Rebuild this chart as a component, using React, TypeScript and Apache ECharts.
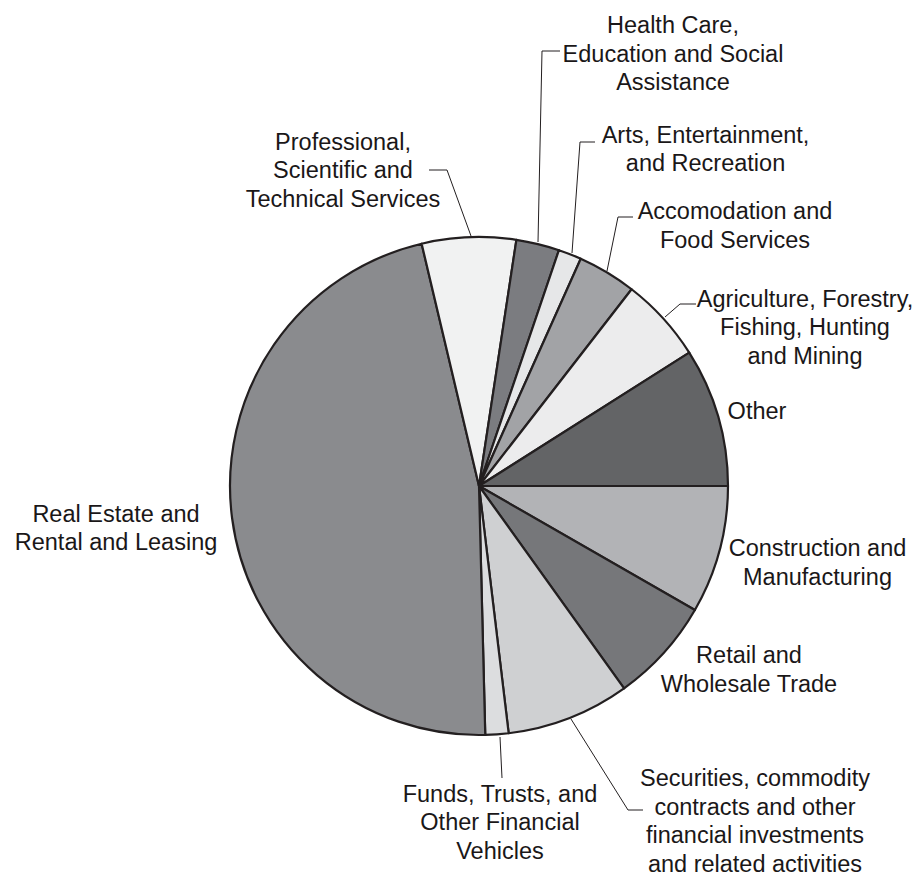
import React, { useEffect, useRef } from "react";
import * as echarts from "echarts";

// Categories (clockwise from 3 o'clock)
const categories: string[] = [
  "Construction and\nManufacturing",
  "Retail and\nWholesale Trade",
  "Securities, commodity\ncontracts and other\nfinancial investments\nand related activities",
  "Funds, Trusts, and\nOther Financial\nVehicles",
  "Real Estate and\nRental and Leasing",
  "Professional,\nScientific and\nTechnical Services",
  "Health Care,\nEducation and Social\nAssistance",
  "Arts, Entertainment,\nand Recreation",
  "Accomodation and\nFood Services",
  "Agriculture, Forestry,\nFishing, Hunting\nand Mining",
  "Other",
];

// Share of each category (percent)
const shares: number[] = [8.3, 6.8, 8.0, 1.5, 46.7, 6.1, 2.8, 1.5, 3.8, 5.5, 9.0];

// Slice fill colours
const sliceColors: string[] = [
  "#b2b3b6",
  "#76777a",
  "#cfd0d2",
  "#dcdddf",
  "#8a8b8e",
  "#f1f2f2",
  "#7b7c80",
  "#e6e7e8",
  "#a2a3a6",
  "#ececed",
  "#636466",
];

// Label block centres (px) and leader lines
const labelPos: [number, number][] = [
  [817.5, 562.5],
  [749, 669.5],
  [755, 821],
  [500, 822],
  [116, 528],
  [343, 170],
  [673, 53.5],
  [705.5, 149],
  [735, 225.5],
  [805, 327],
  [757, 411],
];

const leaderLines: ([number, number][] | null)[] = [
  null,
  null,
  [[571, 719], [628, 810], [643, 810]],
  [[500, 737], [502, 778]],
  null,
  [[471, 236], [447, 170], [429, 170]],
  [[538, 242], [542, 51], [560, 51]],
  [[572, 253], [580, 142], [595, 142]],
  [[607, 271], [618, 217], [633, 217]],
  [[665, 317], [680, 304], [696, 304]],
  null,
];

export default function App() {
  const ref = useRef<HTMLDivElement>(null);

  useEffect(() => {
    if (!ref.current) return;
    const chart = echarts.init(ref.current, undefined, { renderer: "svg" });
    const data = categories.map((name, i) => ({
      name,
      value: shares[i],
      itemStyle: { color: sliceColors[i] },
      labelLine: { show: leaderLines[i] !== null },
    }));
    chart.setOption({
      animation: false,
      backgroundColor: "#ffffff",
      series: [
        {
          type: "pie",
          center: [479, 486],
          radius: 249,
          startAngle: 0,
          clockwise: true,
          avoidLabelOverlap: false,
          data,
          itemStyle: { borderColor: "#231f20", borderWidth: 2.2 },
          emphasis: { disabled: true },
          label: {
            show: true,
            position: "outside",
            formatter: "{b}",
            fontFamily: "Liberation Sans, Arial, sans-serif",
            fontSize: 23.5,
            lineHeight: 28.5,
            color: "#1a1718",
            align: "center",
          },
          labelLine: {
            show: true,
            lineStyle: { color: "#231f20", width: 1 },
          },
          labelLayout: (params: any) => {
            const i = params.dataIndex;
            const out: any = {
              x: labelPos[i][0],
              y: labelPos[i][1],
              align: "center",
              verticalAlign: "middle",
            };
            if (leaderLines[i]) out.labelLinePoints = leaderLines[i];
            return out;
          },
        },
      ],
    });
    return () => chart.dispose();
  }, []);

  return (
    <div
      ref={ref}
      style={{ position: "fixed", left: 0, top: 0, width: 921, height: 875, background: "#fff" }}
    />
  );
}
